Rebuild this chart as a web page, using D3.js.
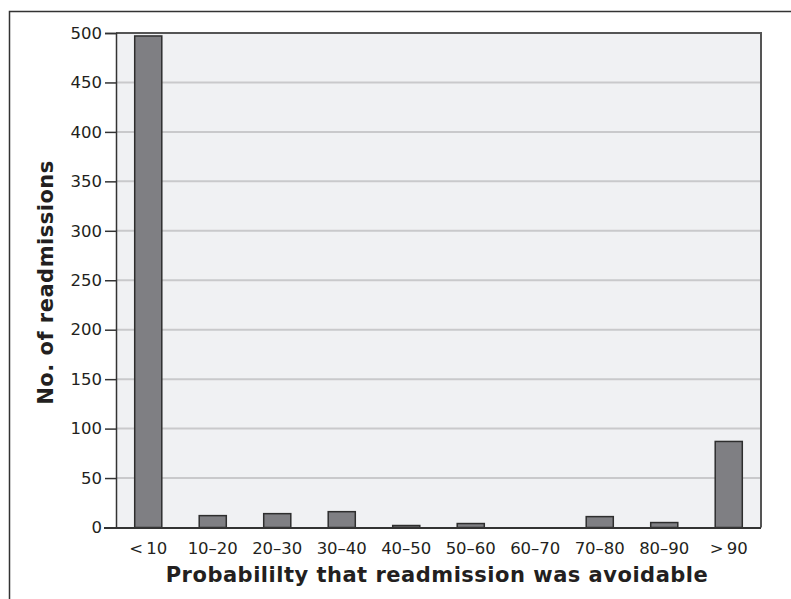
<!DOCTYPE html>
<html><head><meta charset="utf-8">
<script src="https://cdn.jsdelivr.net/npm/d3@7"></script>
<style>body{margin:0;background:#fff}svg{display:block}</style>
</head><body>
<script>
const categories = ["<\u200910","10–20","20–30","30–40","40–50","50–60","60–70","70–80","80–90",">\u200990"];
const values = [497, 12, 14, 16, 2, 4, 0, 11, 5, 87];
const yTicks = [0,50,100,150,200,250,300,350,400,450,500];
const xTitle = "Probabililty that readmission was avoidable";
const yTitle = "No. of readmissions";

const W = 791, H = 599;
const svg = d3.select("body").append("svg").attr("width", W).attr("height", H);
const font = "'DejaVu Sans', sans-serif";
const m = {l:116, r:761, t:33, b:527.5};

// outer frame (left + top)
svg.append("path").attr("d", `M9.5,${H} V11.5 H${W}`).attr("fill","none").attr("stroke","#333").attr("stroke-width",1.5);

const x = d3.scaleBand().domain(categories).range([m.l, m.r]).paddingInner(0.58).paddingOuter(0.29);
const y = d3.scaleLinear().domain([0,500]).range([m.b, m.t]);

svg.append("rect").attr("x", m.l).attr("y", m.t).attr("width", m.r-m.l).attr("height", m.b-m.t).attr("fill","#f0f1f3");

// grid
svg.append("g").selectAll("line").data(yTicks.filter(d=>d>0 && d<500)).join("line")
  .attr("x1", m.l).attr("x2", m.r).attr("y1", d=>y(d)).attr("y2", d=>y(d))
  .attr("stroke","#c9c9cb").attr("stroke-width",2);

// bars
svg.append("g").selectAll("rect").data(values).join("rect")
  .attr("x",(d,i)=>x(categories[i])).attr("width", x.bandwidth())
  .attr("y", d=>y(d)).attr("height", d=>y(0)-y(d))
  .attr("fill","#7f7f83").attr("stroke","#2e2e2e").attr("stroke-width",1.5);

// top & right border
svg.append("path").attr("d",`M${m.l},${m.t} H${m.r} V${m.b}`).attr("fill","none").attr("stroke","#555").attr("stroke-width",2);

// y axis
const ya = svg.append("g").attr("transform",`translate(${m.l},0)`)
  .call(d3.axisLeft(y).tickValues(yTicks).tickSize(11).tickPadding(3));
ya.select(".domain").attr("stroke","#333").attr("stroke-width",1.5);
ya.selectAll(".tick line").attr("stroke","#333").attr("stroke-width",1.5);
ya.selectAll("text").attr("font-family",font).attr("font-size",16.5).attr("fill","#231f20");

// x axis
const xa = svg.append("g").attr("transform",`translate(0,${m.b})`)
  .call(d3.axisBottom(x).tickSize(0).tickPadding(15));
xa.select(".domain").attr("stroke","#333").attr("stroke-width",2).attr("d",`M${m.l-12},0.5H${m.r}`);
xa.selectAll("text").attr("font-family",font).attr("font-size",16.5).attr("fill","#231f20");

svg.append("text").attr("x",437).attr("y",582).attr("text-anchor","middle")
  .attr("font-family",font).attr("font-weight",700).attr("font-size",21).attr("letter-spacing",0.5).attr("fill","#231f20").text(xTitle);
svg.append("text").attr("transform","translate(53,282.5) rotate(-90)").attr("text-anchor","middle")
  .attr("font-family",font).attr("font-weight",700).attr("font-size",21).attr("letter-spacing",0.5).attr("fill","#231f20").text(yTitle);
</script>
</body></html>
